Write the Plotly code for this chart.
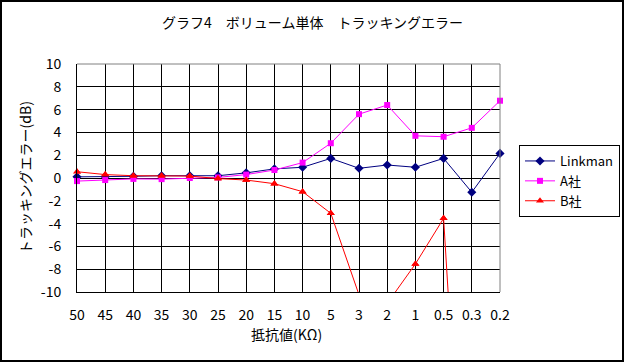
import plotly.graph_objects as go

categories = ["50", "45", "40", "35", "30", "25", "20", "15", "10", "5", "3", "2", "1", "0.5", "0.3", "0.2"]
linkman = [0.1, 0.1, 0.15, 0.2, 0.2, 0.2, 0.45, 0.8, 0.94, 1.72, 0.85, 1.14, 0.94, 1.72, -1.25, 2.16]
a_sha = [-0.27, -0.18, -0.08, -0.1, 0.0, 0.05, 0.3, 0.7, 1.35, 3.05, 5.6, 6.4, 3.7, 3.62, 4.4, 6.78]
b_sha = [0.55, 0.3, 0.2, 0.2, 0.17, -0.05, -0.18, -0.5, -1.2, -3.1, -10.25, -11.0, -7.54, -3.54, -44.0, -40.0]
y_ticks = [10, 8, 6, 4, 2, 0, -2, -4, -6, -8, -10]

FONT = "Noto Sans CJK JP, Noto Sans, sans-serif"
Y_MIN, Y_MAX = -10, 10

fig = go.Figure()
fig.add_trace(go.Scatter(x=categories, y=linkman, name="Linkman", mode="lines+markers",
                         line=dict(color="#000080", width=1),
                         marker=dict(symbol="diamond", size=7, color="#000080"),
                         cliponaxis=False))
fig.add_trace(go.Scatter(x=categories, y=a_sha, name="A社", mode="lines+markers",
                         line=dict(color="#FF00FF", width=1),
                         marker=dict(symbol="square", size=6, color="#FF00FF"),
                         cliponaxis=False))
fig.add_trace(go.Scatter(x=categories, y=b_sha, name="B社", mode="lines+markers",
                         line=dict(color="#FF0000", width=1),
                         marker=dict(symbol="triangle-up", size=7, color="#FF0000"),
                         cliponaxis=True))
b_in = [v if Y_MIN <= v <= Y_MAX else None for v in b_sha]
fig.add_trace(go.Scatter(x=categories, y=b_in, name="B社", mode="markers", showlegend=False,
                         marker=dict(symbol="triangle-up", size=7, color="#FF0000"),
                         cliponaxis=False))

W, H = 625, 363
L, R, T, B = 77, 500, 64, 292
pw, ph = R - L, B - T

def px(x):
    return (x - L) / pw

def py(y):
    return (B - y) / ph

fig.update_layout(
    width=W, height=H,
    margin=dict(l=L, r=W - R, t=T, b=H - B, pad=0, autoexpand=False),
    paper_bgcolor="white", plot_bgcolor="white",
    font=dict(family=FONT, size=14, color="black"),
    title=dict(text="グラフ4　ボリューム単体　トラッキングエラー", x=0.5, xref="container",
               xanchor="center", y=(H - 23) / H, yref="container", yanchor="middle",
               font=dict(size=14, family=FONT)),
    showlegend=True,
    legend=dict(x=px(519), y=py(145), xanchor="left", yanchor="top",
                bordercolor="black", borderwidth=1, bgcolor="white",
                font=dict(size=13, family=FONT), itemwidth=30,
                tracegroupgap=0),
    xaxis=dict(type="category", range=[0, len(categories) - 1], showgrid=True,
               gridcolor="black", gridwidth=1, showline=True, linecolor="black",
               linewidth=1, ticks="", ticklabelstandoff=10, zeroline=False,
               tickfont=dict(size=14, family=FONT)),
    yaxis=dict(range=[Y_MIN, Y_MAX], tickvals=y_ticks, ticktext=[str(v) for v in y_ticks],
               showgrid=True, gridcolor="black", gridwidth=1, showline=True,
               linecolor="black", linewidth=1, ticks="", ticklabelstandoff=12,
               zeroline=False, tickfont=dict(size=14, family=FONT)),
    annotations=[
        dict(text="トラッキングエラー(dB)", x=px(25), y=0.5, xref="paper", yref="paper",
             textangle=-90, showarrow=False, xanchor="center", yanchor="middle",
             font=dict(size=14, family=FONT)),
        dict(text="抵抗値(KΩ)", x=px(286), y=py(334), xref="paper", yref="paper",
             showarrow=False, xanchor="center", yanchor="middle",
             font=dict(size=14, family=FONT)),
    ],
    shapes=[
        dict(type="line", xref="paper", yref="paper", x0=0, x1=1, y0=1, y1=1,
             line=dict(color="#808080", width=1)),
        dict(type="line", xref="paper", yref="paper", x0=1, x1=1, y0=0, y1=1,
             line=dict(color="#808080", width=1)),
        dict(type="rect", xref="paper", yref="paper", x0=px(1), x1=px(623), y0=py(1), y1=py(361),
             line=dict(color="black", width=2), fillcolor="rgba(0,0,0,0)"),
    ],
)

fig.write_html("out.html", config={"displayModeBar": False},
               post_script="document.body.style.margin='0';document.body.style.padding='0';")
